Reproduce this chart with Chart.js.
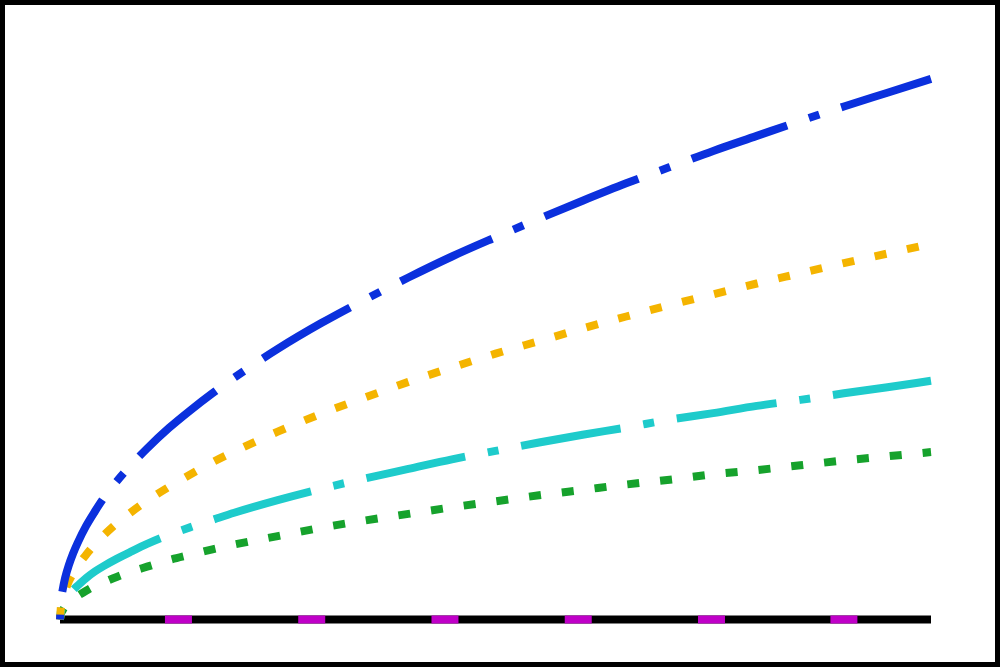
<!DOCTYPE html>
<html>
<head>
<meta charset="utf-8">
<script src="https://cdn.jsdelivr.net/npm/chart.js@4/dist/chart.umd.min.js"></script>
<style>
  html, body { margin: 0; padding: 0; background: #fff; }
  #frame { width: 1000px; height: 667px; box-sizing: border-box; border: 5px solid #000; }
  canvas { display: block; }
</style>
</head>
<body>
<div id="frame"><canvas id="curves" width="990" height="657"></canvas></div>
<script>
'use strict';

// sample positions along x (shared by all four curves)
var xs = [0, 0.01, 0.03, 0.06, 0.1, 0.15, 0.2, 0.3, 0.4, 0.5, 0.65, 0.8, 1, 1.25, 1.5, 1.75,
  2, 2.5, 3, 3.5, 4, 4.5, 5, 5.5, 6, 6.5, 7, 7.5, 8, 8.5, 9, 9.5, 10];

// values
var blueVals = [0, 0.29, 0.49, 0.70, 0.90, 1.10, 1.27, 1.56, 1.80, 2.02, 2.30, 2.55, 2.85, 3.19, 3.49, 3.77,
  4.03, 4.51, 4.94, 5.33, 5.70, 6.05, 6.37, 6.68, 6.98, 7.27, 7.54, 7.81, 8.06, 8.31, 8.55, 8.78, 9.01];
var yellowVals = [0, 0.20, 0.34, 0.48, 0.63, 0.77, 0.89, 1.08, 1.25, 1.40, 1.60, 1.77, 1.98, 2.21, 2.42, 2.62,
  2.80, 3.13, 3.43, 3.70, 3.96, 4.20, 4.43, 4.64, 4.85, 5.05, 5.24, 5.42, 5.60, 5.77, 5.94, 6.10, 6.26];
var cyanVals = [0, 0.13, 0.22, 0.31, 0.40, 0.49, 0.56, 0.69, 0.80, 0.89, 1.01, 1.12, 1.26, 1.41, 1.54, 1.66,
  1.78, 1.99, 2.18, 2.35, 2.51, 2.67, 2.81, 2.95, 3.08, 3.20, 3.33, 3.44, 3.56, 3.66, 3.77, 3.87, 3.98];
var greenVals = [0, 0.09, 0.15, 0.22, 0.28, 0.34, 0.39, 0.48, 0.56, 0.62, 0.71, 0.79, 0.88, 0.99, 1.08, 1.17,
  1.25, 1.39, 1.53, 1.65, 1.76, 1.87, 1.97, 2.07, 2.16, 2.25, 2.33, 2.42, 2.49, 2.57, 2.65, 2.72, 2.79];

// tick marks sitting on the x axis line
var tickPositions = [1.36, 2.89, 4.42, 5.95, 7.48, 9.0];

var xMin = 0;
var xMax = 10;
var yMax = 10;

function toPoints(values) {
  var pts = [];
  for (var i = 0; i < xs.length; i++) {
    pts.push({x: xs[i], y: values[i]});
  }
  return pts;
}

function curve(values, color, dash, offset) {
  return {
    data: toPoints(values),
    borderColor: color,
    borderWidth: 8,
    borderDash: dash,
    borderDashOffset: offset,
    borderCapStyle: 'butt',
    cubicInterpolationMode: 'monotone',
    pointRadius: 0,
    clip: false
  };
}

var tickPoints = [];
for (var i = 0; i < tickPositions.length; i++) {
  tickPoints.push({x: tickPositions[i], y: 0});
}

var dashDot = [11, 23, 101, 23];
var dotted = [12, 21];

var datasets = [
  curve(blueVals, '#0b30dd', dashDot, 6),
  curve(yellowVals, '#f4b400', dotted, 0),
  curve(cyanVals, '#1ecbcb', dashDot, 0),
  curve(greenVals, '#16a22c', dotted, 0),
  {
    // magenta ticks on the axis
    data: tickPoints,
    showLine: false,
    pointStyle: 'line',
    pointRadius: 13.5,
    pointBorderWidth: 8,
    pointBorderColor: '#c000c8',
    clip: false
  },
  {
    // the axis line itself
    data: [{x: xMin, y: 0}, {x: xMax, y: 0}],
    borderColor: '#000',
    borderWidth: 8,
    borderCapStyle: 'butt',
    pointRadius: 0,
    clip: false
  }
];

var ctx = document.getElementById('curves').getContext('2d');
var chart = new Chart(ctx, {
  type: 'line',
  data: {datasets: datasets},
  options: {
    responsive: false,
    animation: false,
    events: [],
    layout: {
      autoPadding: false,
      padding: {left: 55, right: 64, top: 14.5, bottom: 42.5}
    },
    plugins: {
      legend: {display: false},
      tooltip: {enabled: false}
    },
    scales: {
      x: {type: 'linear', min: xMin, max: xMax, display: false},
      y: {type: 'linear', min: 0, max: yMax, display: false}
    }
  }
});
</script>
</body>
</html>
